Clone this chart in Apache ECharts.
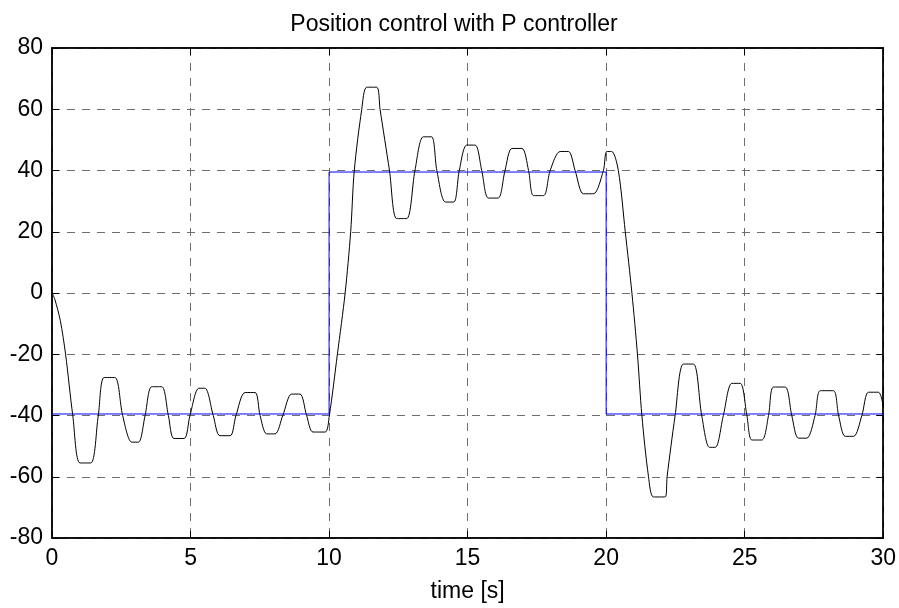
<!DOCTYPE html>
<html lang="en" style="height: 100%">
<head>
  <meta charset="utf-8">
  <title>Position control with P controller</title>
</head>
<body style="height: 100%; margin: 0; background: #fff">
  <div id="container" style="width: 899px; height: 608px"></div>
  <script type="text/javascript" src="https://cdn.jsdelivr.net/npm/echarts@6/dist/echarts.min.js"></script>
  <script type="text/javascript">
    // reference (set point), step signal
    var refData = [
      [0, -39.5], [10, -39.5], [10, 39.5], [20, 39.5], [20, -39.5], [30, -39.5]
    ];
    var posData = [
      [0, 0], [0.1, -2], [0.3, -9], [0.49, -20], [0.75, -40], [1.01, -55.5], [1.4, -55.5],
      [1.67, -40], [1.88, -27.6], [2.27, -27.6], [2.55, -40], [2.88, -48.7], [3.12, -48.7],
      [3.36, -40], [3.6, -30.6], [3.96, -30.6], [4.2, -40], [4.4, -47.5], [4.77, -47.5],
      [4.98, -40], [5.3, -31.1], [5.52, -31.1], [5.82, -40], [6.06, -46.6], [6.43, -46.6],
      [6.64, -40], [6.97, -32.5], [7.33, -32.5], [7.51, -40], [7.75, -46], [8.05, -46],
      [8.33, -40], [8.65, -33], [8.95, -33], [9.19, -40], [9.42, -45.4], [9.86, -45.4],
      [10.01, -40], [10.3, -20], [10.58, 0], [10.78, 20], [10.91, 40], [11.18, 60],
      [11.36, 67.2], [11.72, 67.2], [11.84, 60], [12.18, 40], [12.44, 24.3], [12.8, 24.3],
      [13.1, 40], [13.4, 51], [13.7, 51], [13.89, 40], [14.2, 29.7], [14.5, 29.7],
      [14.7, 40], [14.97, 48.3], [15.27, 48.3], [15.51, 40], [15.75, 31], [16.1, 31],
      [16.35, 40], [16.6, 47.2], [16.96, 47.2], [17.2, 40], [17.38, 31.8], [17.74, 31.8],
      [17.98, 40], [18.34, 46.2], [18.64, 46.2], [18.88, 40], [19.18, 32.4], [19.54, 32.4],
      [19.9, 40], [20.02, 46.2], [20.2, 46.2], [20.44, 40], [20.69, 20], [20.93, 0],
      [21.13, -20], [21.29, -40], [21.53, -60], [21.71, -66.6], [22.13, -66.6], [22.2, -60],
      [22.49, -40], [22.79, -23.2], [23.15, -23.2], [23.45, -40], [23.73, -50.4], [23.94, -50.4],
      [24.23, -40], [24.54, -29.5], [24.84, -29.5], [25.08, -40], [25.26, -48], [25.62, -48],
      [25.86, -40], [26.04, -30.7], [26.46, -30.7], [26.7, -40], [26.94, -47.4], [27.24, -47.4],
      [27.54, -40], [27.73, -31.9], [28.2, -31.9], [28.39, -40], [28.63, -46.8], [28.93, -46.8],
      [29.23, -40], [29.47, -32.4], [29.83, -32.4], [30, -37]
    ];
    var titleText = 'Position control with P controller';
    var xName = 'time [s]';

    var font = '"Liberation Sans", Arial, sans-serif';
    var dom = document.getElementById('container');
    var myChart = echarts.init(dom, null, { renderer: 'canvas' });

    var splitStyle = { show: true, lineStyle: { color: '#6e6e6e', width: 1, type: [8, 7] } };
    var tickStyle = { show: true, inside: true, length: 7, lineStyle: { color: '#000', width: 1 } };
    var lineStyleAxis = { color: '#000', width: 1.5 };
    var option = {
      animation: false,
      backgroundColor: '#fff',
      title: {
        text: titleText,
        left: 449,
        textAlign: 'center',
        top: 8,
        textStyle: { fontFamily: font, fontSize: 23, fontWeight: 'normal', color: '#000' }
      },
      grid: {
        left: 52, right: 14, top: 48, bottom: 66,
        show: true, borderColor: '#000', borderWidth: 1.5
      },
      xAxis: [{
        type: 'value', min: 0, max: 30, interval: 5,
        name: xName, nameLocation: 'middle', nameGap: 42,
        nameTextStyle: { fontFamily: font, fontSize: 23, color: '#000' },
        axisLine: { show: true, onZero: false, lineStyle: lineStyleAxis },
        axisTick: tickStyle,
        axisLabel: { fontFamily: font, fontSize: 23, color: '#000', margin: 9 },
        splitLine: splitStyle
      }, {
        type: 'value', min: 0, max: 30, interval: 5, position: 'top',
        axisLine: { show: true, onZero: false, lineStyle: lineStyleAxis },
        axisTick: tickStyle,
        axisLabel: { show: false }, splitLine: { show: false }
      }],
      yAxis: [{
        type: 'value', min: -80, max: 80, interval: 20,
        axisLine: { show: true, onZero: false, lineStyle: lineStyleAxis },
        axisTick: tickStyle,
        axisLabel: { fontFamily: font, fontSize: 23, color: '#000', margin: 9 },
        splitLine: splitStyle
      }, {
        type: 'value', min: -80, max: 80, interval: 20, position: 'right',
        axisLine: { show: true, onZero: false, lineStyle: lineStyleAxis },
        axisTick: tickStyle,
        axisLabel: { show: false }, splitLine: { show: false }
      }],
      series: [
        {
          type: 'line', data: refData, showSymbol: false,
          lineStyle: { color: '#0000ff', width: 1 }, z: 2
        },
        {
          type: 'line', data: posData, showSymbol: false, smooth: 0.3,
          lineStyle: { color: '#000', width: 1 }, z: 3
        }
      ]
    };
    myChart.setOption(option);
    window.addEventListener('resize', myChart.resize);
  </script>
</body>
</html>
